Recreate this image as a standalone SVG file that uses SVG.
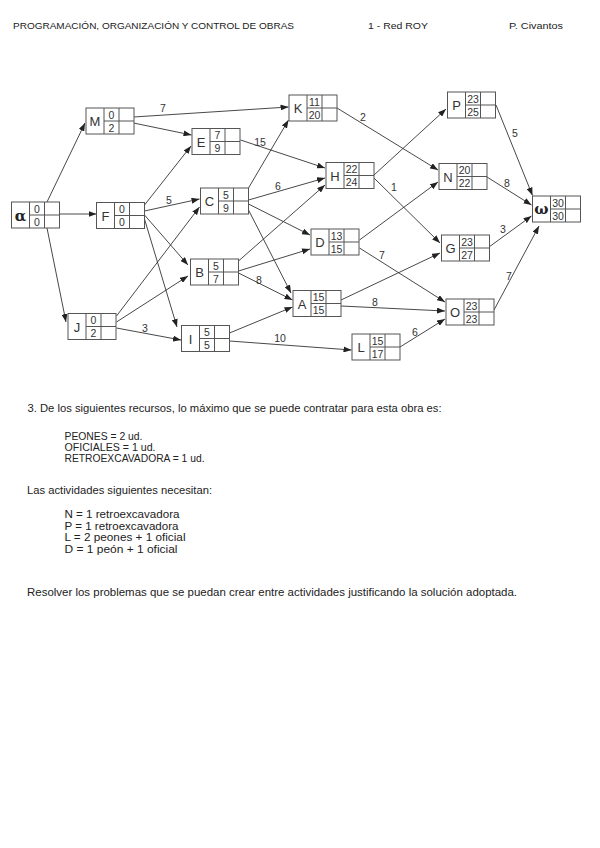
<svg xmlns="http://www.w3.org/2000/svg" width="600" height="848" viewBox="0 0 600 848">
<style>
.t{font-family:"Liberation Sans",Arial,sans-serif;fill:#222}
.hd{font-size:9.5px}
.p{font-size:10px}
.fr rect,.fr line{fill:#fff;stroke:#555;stroke-width:1}
.fr line{fill:none}
.lb{font-family:"Liberation Sans",Arial,sans-serif;font-size:13px;fill:#333;text-anchor:middle}
.gk{font-family:"DejaVu Serif",serif;font-size:15px;font-weight:bold;fill:#222;text-anchor:middle}
.nm{font-family:"Liberation Sans",Arial,sans-serif;font-size:10.5px;fill:#333;text-anchor:middle}
.ed line{stroke:#333;stroke-width:0.9;marker-end:url(#ah)}
.el{font-family:"Liberation Sans",Arial,sans-serif;font-size:10.5px;fill:#333;text-anchor:middle}
</style>
<defs>
<marker id="ah" markerWidth="8" markerHeight="6" refX="8" refY="3" orient="auto" markerUnits="userSpaceOnUse">
<path d="M0,0 L8,3 L0,6 z" fill="#222"/>
</marker>
<g id="frame" class="fr">
<rect x="0" y="0" width="48" height="26"/>
<line x1="18" y1="0" x2="18" y2="26"/>
<line x1="33" y1="0" x2="33" y2="26"/>
<line x1="18" y1="13" x2="48" y2="13"/>
</g>
</defs>
<rect width="600" height="848" fill="#fff"/>

<g id="header" class="t hd">
<text x="13" y="29" textLength="281" lengthAdjust="spacingAndGlyphs">PROGRAMACIÓN, ORGANIZACIÓN Y CONTROL DE OBRAS</text>
<text x="368" y="29" textLength="60" lengthAdjust="spacingAndGlyphs">1 - Red ROY</text>
<text x="509" y="29" textLength="54" lengthAdjust="spacingAndGlyphs">P. Civantos</text>
</g>

<g id="connectors" class="ed">
<line x1="47" y1="202" x2="85" y2="123"/>
<line x1="59" y1="214" x2="96.5" y2="214"/>
<line x1="47" y1="228" x2="66" y2="322"/>
<line x1="133.5" y1="117" x2="288.5" y2="107"/>
<line x1="133.5" y1="123" x2="191.5" y2="135"/>
<line x1="144.5" y1="205" x2="191" y2="146"/>
<line x1="144.5" y1="211" x2="199.5" y2="199"/>
<line x1="144.5" y1="215" x2="188" y2="265"/>
<line x1="144.5" y1="219" x2="177" y2="327"/>
<line x1="116.5" y1="316" x2="199.5" y2="207"/>
<line x1="116.5" y1="322" x2="188" y2="276"/>
<line x1="116.5" y1="328" x2="181" y2="340"/>
<line x1="240.5" y1="140" x2="325" y2="168"/>
<line x1="248.5" y1="188" x2="288.5" y2="120"/>
<line x1="248.5" y1="200" x2="325" y2="178"/>
<line x1="248.5" y1="204" x2="310" y2="235"/>
<line x1="248.5" y1="210" x2="291" y2="293"/>
<line x1="238.5" y1="261" x2="325" y2="185"/>
<line x1="238.5" y1="271" x2="310" y2="249"/>
<line x1="238.5" y1="273" x2="292.5" y2="300"/>
<line x1="229.5" y1="333" x2="292.5" y2="307"/>
<line x1="229.5" y1="341" x2="351.5" y2="350"/>
<line x1="337" y1="108" x2="438" y2="170"/>
<line x1="374" y1="175" x2="446" y2="109"/>
<line x1="374" y1="178" x2="440" y2="243"/>
<line x1="359.5" y1="240" x2="438" y2="182"/>
<line x1="359.5" y1="248" x2="445" y2="302"/>
<line x1="341" y1="300" x2="440" y2="253"/>
<line x1="341" y1="306" x2="445" y2="311"/>
<line x1="400" y1="347" x2="445" y2="319"/>
<line x1="496" y1="105" x2="532.5" y2="195.5"/>
<line x1="487" y1="177" x2="531.5" y2="205"/>
<line x1="489" y1="247" x2="531.5" y2="216"/>
<line x1="494" y1="310" x2="539" y2="226"/>
</g>

<g id="edge-labels" class="el">
<text x="163" y="112">7</text>
<text x="260" y="146">15</text>
<text x="169" y="204">5</text>
<text x="278" y="190">6</text>
<text x="259" y="284">8</text>
<text x="145" y="332">3</text>
<text x="280" y="342">10</text>
<text x="363" y="121">2</text>
<text x="394" y="191">1</text>
<text x="382" y="259">7</text>
<text x="375" y="306">8</text>
<text x="415" y="336">6</text>
<text x="515" y="137">5</text>
<text x="507" y="187">8</text>
<text x="503" y="233">3</text>
<text x="509" y="280">7</text>
</g>

<g id="node-alpha" transform="translate(11.5,202)"><use href="#frame"/><text class="gk" x="9" y="18.5">α</text><text class="nm" x="25.5" y="10.5">0</text><text class="nm" x="25.5" y="23.5">0</text></g>
<g id="node-M" transform="translate(86,108)"><use href="#frame"/><text class="lb" x="9" y="18">M</text><text class="nm" x="25.5" y="10.5">0</text><text class="nm" x="25.5" y="23.5">2</text></g>
<g id="node-F" transform="translate(96.5,202.5)"><use href="#frame"/><text class="lb" x="9" y="18">F</text><text class="nm" x="25.5" y="10.5">0</text><text class="nm" x="25.5" y="23.5">0</text></g>
<g id="node-J" transform="translate(68,313.5)"><use href="#frame"/><text class="lb" x="9" y="18">J</text><text class="nm" x="25.5" y="10.5">0</text><text class="nm" x="25.5" y="23.5">2</text></g>
<g id="node-E" transform="translate(192,128.5)"><use href="#frame"/><text class="lb" x="9" y="18">E</text><text class="nm" x="25.5" y="10.5">7</text><text class="nm" x="25.5" y="23.5">9</text></g>
<g id="node-C" transform="translate(200.5,188)"><use href="#frame"/><text class="lb" x="9" y="18">C</text><text class="nm" x="25.5" y="10.5">5</text><text class="nm" x="25.5" y="23.5">9</text></g>
<g id="node-B" transform="translate(190.5,259)"><use href="#frame"/><text class="lb" x="9" y="18">B</text><text class="nm" x="25.5" y="10.5">5</text><text class="nm" x="25.5" y="23.5">7</text></g>
<g id="node-I" transform="translate(181.5,325.5)"><use href="#frame"/><text class="lb" x="9" y="18">I</text><text class="nm" x="25.5" y="10.5">5</text><text class="nm" x="25.5" y="23.5">5</text></g>
<g id="node-K" transform="translate(289,95)"><use href="#frame"/><text class="lb" x="9" y="18">K</text><text class="nm" x="25.5" y="10.5">11</text><text class="nm" x="25.5" y="23.5">20</text></g>
<g id="node-H" transform="translate(326,162.5)"><use href="#frame"/><text class="lb" x="9" y="18">H</text><text class="nm" x="25.5" y="10.5">22</text><text class="nm" x="25.5" y="23.5">24</text></g>
<g id="node-D" transform="translate(311,229)"><use href="#frame"/><text class="lb" x="9" y="18">D</text><text class="nm" x="25.5" y="10.5">13</text><text class="nm" x="25.5" y="23.5">15</text></g>
<g id="node-A" transform="translate(293,290.5)"><use href="#frame"/><text class="lb" x="9" y="18">A</text><text class="nm" x="25.5" y="10.5">15</text><text class="nm" x="25.5" y="23.5">15</text></g>
<g id="node-L" transform="translate(352,334)"><use href="#frame"/><text class="lb" x="9" y="18">L</text><text class="nm" x="25.5" y="10.5">15</text><text class="nm" x="25.5" y="23.5">17</text></g>
<g id="node-P" transform="translate(447.5,92)"><use href="#frame"/><text class="lb" x="9" y="18">P</text><text class="nm" x="25.5" y="10.5">23</text><text class="nm" x="25.5" y="23.5">25</text></g>
<g id="node-N" transform="translate(439,163.5)"><use href="#frame"/><text class="lb" x="9" y="18">N</text><text class="nm" x="25.5" y="10.5">20</text><text class="nm" x="25.5" y="23.5">22</text></g>
<g id="node-G" transform="translate(441.5,235)"><use href="#frame"/><text class="lb" x="9" y="18">G</text><text class="nm" x="25.5" y="10.5">23</text><text class="nm" x="25.5" y="23.5">27</text></g>
<g id="node-O" transform="translate(446,299)"><use href="#frame"/><text class="lb" x="9" y="18">O</text><text class="nm" x="25.5" y="10.5">23</text><text class="nm" x="25.5" y="23.5">23</text></g>
<g id="node-omega" transform="translate(532.5,196)"><use href="#frame"/><text class="gk" x="9" y="18">ω</text><text class="nm" x="25.5" y="10.5">30</text><text class="nm" x="25.5" y="23.5">30</text></g>

<g id="text-body" class="t p">
<text x="27.5" y="411.5" textLength="414" lengthAdjust="spacingAndGlyphs">3. De los siguientes recursos, lo máximo que se puede contratar para esta obra es:</text>
<text x="64.5" y="440" textLength="78" lengthAdjust="spacingAndGlyphs">PEONES = 2 ud.</text>
<text x="64.5" y="451" textLength="91" lengthAdjust="spacingAndGlyphs">OFICIALES = 1 ud.</text>
<text x="64.5" y="461.5" textLength="140" lengthAdjust="spacingAndGlyphs">RETROEXCAVADORA = 1 ud.</text>
<text x="27" y="493.5" textLength="185" lengthAdjust="spacingAndGlyphs">Las actividades siguientes necesitan:</text>
<text x="64.5" y="518" textLength="115" lengthAdjust="spacingAndGlyphs">N = 1 retroexcavadora</text>
<text x="64.5" y="529.5" textLength="114" lengthAdjust="spacingAndGlyphs">P = 1 retroexcavadora</text>
<text x="64.5" y="541" textLength="121" lengthAdjust="spacingAndGlyphs">L = 2 peones + 1 oficial</text>
<text x="64.5" y="552.5" textLength="113" lengthAdjust="spacingAndGlyphs">D = 1 peón + 1 oficial</text>
<text x="27" y="595.5" textLength="490" lengthAdjust="spacingAndGlyphs">Resolver los problemas que se puedan crear entre actividades justificando la solución adoptada.</text>
</g>
</svg>
